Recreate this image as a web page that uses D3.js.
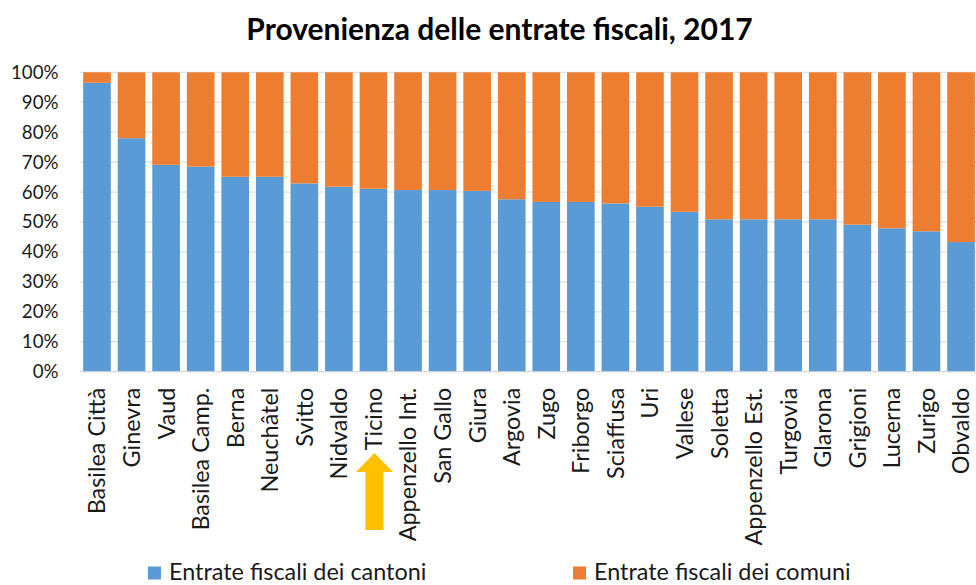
<!DOCTYPE html>
<html>
<head>
<meta charset="utf-8">
<script src="https://cdn.jsdelivr.net/npm/d3@7/dist/d3.min.js"></script>
<style>
  html, body { margin: 0; padding: 0; background: #fff; }
  svg { display: block; }
  text { font-family: Lato, "Open Sans", sans-serif; fill: #1a1a1a; }
</style>
</head>
<body>
<svg id="chart" width="976" height="585"></svg>
<script>
// Cantons, ordered by the cantonal share of tax revenue
const categories = [
  "Basilea Città", "Ginevra", "Vaud", "Basilea Camp.", "Berna", "Neuchâtel",
  "Svitto", "Nidvaldo", "Ticino", "Appenzello Int.", "San Gallo", "Giura",
  "Argovia", "Zugo", "Friborgo", "Sciaffusa", "Uri", "Vallese", "Soletta",
  "Appenzello Est.", "Turgovia", "Glarona", "Grigioni", "Lucerna", "Zurigo", "Obvaldo"
];

// Share of revenue (%) collected by the canton
const cantoniShare = [
  96.5, 78.0, 69.1, 68.5, 65.1, 65.1, 62.9, 61.8, 61.1, 60.7, 60.7, 60.4, 57.6,
  56.7, 56.7, 56.2, 55.1, 53.4, 50.9, 50.9, 50.9, 50.9, 49.1, 47.9, 46.9, 43.3
];

// Share of revenue (%) collected by the municipalities
const comuniShare = [
  3.5, 22.0, 30.9, 31.5, 34.9, 34.9, 37.1, 38.2, 38.9, 39.3, 39.3, 39.6, 42.4,
  43.3, 43.3, 43.8, 44.9, 46.6, 49.1, 49.1, 49.1, 49.1, 50.9, 52.1, 53.1, 56.7
];

const seriesNames = ["Entrate fiscali dei cantoni", "Entrate fiscali dei comuni"];
const seriesColors = ["#5B9BD5", "#ED7D31"];
const yTicks = [0, 10, 20, 30, 40, 50, 60, 70, 80, 90, 100];
const highlighted = "Ticino";

const svg = d3.select("#chart");

const rows = categories.map((c, i) => ({ name: c, cantoni: cantoniShare[i], comuni: comuniShare[i] }));
const stacked = d3.stack().keys(["cantoni", "comuni"])(rows);

const x = d3.scaleBand()
  .domain(categories)
  .range([79.7, 978.3])
  .paddingInner(0.2)
  .paddingOuter(0.1);

const y = d3.scaleLinear().domain([0, 100]).range([371.7, 72.3]);

// Title
svg.append("text")
  .attr("x", 499.5).attr("y", 40)
  .attr("text-anchor", "middle")
  .style("font-size", "30px").style("font-weight", "bold")
  .style("fill", "#000")
  .text("Provenienza delle entrate fiscali, 2017");

// Horizontal gridlines
svg.append("g")
  .selectAll("line")
  .data(yTicks)
  .join("line")
  .attr("x1", 80).attr("x2", 976)
  .attr("y1", d => y(d)).attr("y2", d => y(d))
  .attr("stroke", "#d9d9d9").attr("stroke-width", 1);

// Y axis labels
const yAxis = d3.axisLeft(y).tickValues(yTicks).tickFormat(d => d + "%").tickSize(0).tickPadding(0);
const gy = svg.append("g").attr("transform", "translate(58.5,0)").call(yAxis);
gy.select(".domain").remove();
gy.selectAll("text")
  .style("font-family", "Lato, sans-serif")
  .style("font-size", "18.7px")
  .style("fill", "#1a1a1a");

// Stacked bars
svg.append("g")
  .selectAll("g")
  .data(stacked)
  .join("g")
  .attr("fill", (d, i) => seriesColors[i])
  .selectAll("rect")
  .data(d => d)
  .join("rect")
  .attr("x", d => x(d.data.name))
  .attr("width", x.bandwidth())
  .attr("y", d => y(d[1]))
  .attr("height", d => y(d[0]) - y(d[1]));

// Baseline
svg.append("line")
  .attr("x1", 80).attr("x2", 976)
  .attr("y1", y(0)).attr("y2", y(0))
  .attr("stroke", "#d9d9d9").attr("stroke-width", 1);

// Category axis with rotated labels
const xAxis = d3.axisBottom(x).tickSize(0).tickPadding(0);
const gx = svg.append("g").attr("transform", `translate(0,${y(0)})`).call(xAxis);
gx.select(".domain").remove();
gx.selectAll("text")
  .attr("transform", "rotate(-90)")
  .attr("x", -16).attr("y", 0).attr("dy", "0.36em")
  .attr("text-anchor", "end")
  .style("font-family", "Lato, sans-serif")
  .style("font-size", "23.4px")
  .style("fill", "#1a1a1a");

// Arrow pointing at the highlighted canton
const ax = x(highlighted) + x.bandwidth() / 2 + 1;
const arrow = d3.path();
arrow.moveTo(ax, 453);
arrow.lineTo(ax + 18.5, 472);
arrow.lineTo(ax + 9, 472);
arrow.lineTo(ax + 9, 530);
arrow.lineTo(ax - 9, 530);
arrow.lineTo(ax - 9, 472);
arrow.lineTo(ax - 18.5, 472);
arrow.closePath();
svg.append("path").attr("d", arrow.toString()).attr("fill", "#FFC000");

// Legend
const legendX = [148, 573];
const legend = svg.append("g")
  .selectAll("g")
  .data(seriesNames)
  .join("g")
  .attr("transform", (d, i) => `translate(${legendX[i]},566.5)`);
legend.append("rect").attr("width", 13).attr("height", 13).attr("fill", (d, i) => seriesColors[i]);
legend.append("text")
  .attr("x", 21).attr("y", 13)
  .style("font-size", "23.4px")
  .text(d => d);
</script>
</body>
</html>
